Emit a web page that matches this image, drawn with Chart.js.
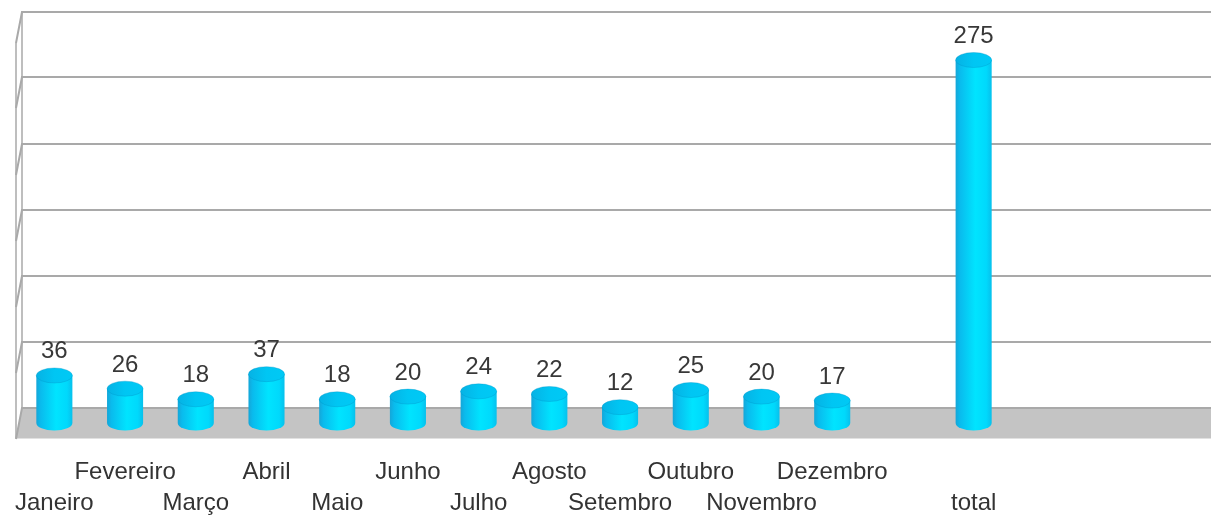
<!DOCTYPE html>
<html lang="pt">
<head>
	<meta charset="UTF-8">
	<title>Total por mês</title>
	<script src="https://cdn.jsdelivr.net/npm/chart.js"></script>
	<style>
		html, body { margin: 0; padding: 0; background: #fff; }
		#wrap { width: 1211px; height: 515px; }
	</style>
</head>
<body>
	<div id="wrap">
		<canvas id="canvas1"></canvas>
	</div>

	<script>
		// ---------------- dados ----------------
		const categories = ['Janeiro', 'Fevereiro', 'Março', 'Abril', 'Maio', 'Junho', 'Julho',
			'Agosto', 'Setembro', 'Outubro', 'Novembro', 'Dezembro', '', 'total'];
		const values = [36, 26, 18, 37, 18, 20, 24, 22, 12, 25, 20, 17, null, 275];
		const yMin = 0;
		const yMax = 300;
		const yStep = 50;

		// profundidade do "3D" (chão / paredes)
		const depthX = 6;
		const depthY = 31;

		const FONT = 'Liberation Sans, Arial, sans-serif';

		// rótulos alternados: conta só os rótulos não vazios (como o Excel)
		function staggered(index) {
			let n = 0;
			for (let i = 0; i < index; i++) if (categories[i] !== '') n++;
			const text = categories[index];
			if (text === '') return '';
			return n % 2 === 0 ? ['', text] : [text, ''];
		}

		// ---------------- chão, paredes e grade ----------------
		const wallPlugin = {
			id: 'wall',
			beforeDatasetsDraw(chart) {
				const ctx = chart.ctx;
				const y = chart.scales.y;
				const W = chart.width;
				const backL = chart.chartArea.left + depthX / 2;
				const frontL = chart.chartArea.left - depthX / 2;
				const back = v => y.getPixelForValue(v) - depthY / 2;

				ctx.save();
				// chão cinza
				const b0 = back(yMin);
				ctx.fillStyle = '#c4c4c4';
				ctx.beginPath();
				ctx.moveTo(backL, b0);
				ctx.lineTo(W, b0);
				ctx.lineTo(W, b0 + depthY);
				ctx.lineTo(frontL, b0 + depthY);
				ctx.closePath();
				ctx.fill();

				// linhas de grade na parede do fundo + parede esquerda
				ctx.strokeStyle = '#a9a9a9';
				ctx.lineWidth = 2;
				const vals = y.ticks.map(t => t.value);
				vals.forEach(v => {
					const yy = Math.round(back(v));
					ctx.beginPath();
					ctx.moveTo(frontL, yy + depthY);
					ctx.lineTo(backL, yy);
					ctx.lineTo(W, yy);
					ctx.stroke();
				});

				// arestas verticais da parede esquerda
				ctx.lineWidth = 1.5;
				ctx.beginPath();
				ctx.moveTo(backL, back(yMax));
				ctx.lineTo(backL, b0);
				ctx.moveTo(frontL, back(yMax) + depthY);
				ctx.lineTo(frontL, b0 + depthY);
				ctx.stroke();
				ctx.restore();
			}
		};

		// ---------------- cilindros ----------------
		function drawCylinder(ctx, cx, top, base, w) {
			const rx = w / 2;
			const ry = 7.5;
			const g = ctx.createLinearGradient(cx - rx, 0, cx + rx, 0);
			g.addColorStop(0, '#15a6d8');
			g.addColorStop(0.12, '#0abbed');
			g.addColorStop(0.55, '#00e4ff');
			g.addColorStop(0.85, '#00d9fc');
			g.addColorStop(1, '#07c0ec');

			// corpo + base arredondada
			ctx.fillStyle = g;
			ctx.beginPath();
			ctx.moveTo(cx - rx, top);
			ctx.lineTo(cx - rx, base);
			ctx.ellipse(cx, base, rx, ry, 0, Math.PI, 0, true);
			ctx.lineTo(cx + rx, top);
			ctx.closePath();
			ctx.fill();

			// tampa
			const gt = ctx.createLinearGradient(cx - rx, 0, cx + rx, 0);
			gt.addColorStop(0, '#06b2e4');
			gt.addColorStop(0.5, '#00c6f3');
			gt.addColorStop(1, '#00c9f5');
			ctx.fillStyle = gt;
			ctx.beginPath();
			ctx.ellipse(cx, top, rx, ry, 0, 0, Math.PI * 2);
			ctx.fill();
			ctx.strokeStyle = 'rgba(0, 150, 200, 0.35)';
			ctx.lineWidth = 1;
			ctx.stroke();
		}

		const cylinderPlugin = {
			id: 'cylinder',
			afterDatasetsDraw(chart) {
				const ctx = chart.ctx;
				const meta = chart.getDatasetMeta(0);
				ctx.save();
				meta.data.forEach((bar, i) => {
					if (values[i] === null) return;
					drawCylinder(ctx, bar.x, bar.y, bar.base, bar.width);
				});
				// valores acima das barras
				ctx.fillStyle = '#383838';
				ctx.font = '24px ' + FONT;
				ctx.textAlign = 'center';
				ctx.textBaseline = 'alphabetic';
				meta.data.forEach((bar, i) => {
					if (values[i] === null) return;
					ctx.fillText(String(values[i]), bar.x, bar.y - 17);
				});
				ctx.restore();
			}
		};

		// ---------------- configuração ----------------
		const config = {
			type: 'bar',
			data: {
				labels: categories,
				datasets: [{
					data: values,
					backgroundColor: 'rgba(0,0,0,0)',
					borderWidth: 0,
					barPercentage: 0.51,
					categoryPercentage: 1
				}]
			},
			options: {
				responsive: true,
				maintainAspectRatio: false,
				animation: false,
				layout: {
					padding: { top: 27, left: 19, right: 202, bottom: 0 }
				},
				scales: {
					x: {
						grid: { display: false, drawTicks: false },
						border: { display: false },
						ticks: {
							autoSkip: false,
							maxRotation: 0,
							minRotation: 0,
							padding: 34,
							color: '#333',
							font: { family: FONT, size: 24, lineHeight: 1.29 },
							callback: (value, index) => staggered(index)
						},
						afterFit: scale => {
							// altura fixa e sem folga extra para o primeiro rótulo
							scale.height = 92;
							scale.paddingLeft = 0;
							scale.paddingRight = 0;
						}
					},
					y: {
						display: false,
						min: yMin,
						max: yMax,
						ticks: { stepSize: yStep }
					}
				},
				plugins: {
					legend: { display: false },
					tooltip: { enabled: false }
				}
			},
			plugins: [wallPlugin, cylinderPlugin]
		};

		const ctx = document.getElementById('canvas1').getContext('2d');
		const chart = new Chart(ctx, config);
	</script>
</body>
</html>
